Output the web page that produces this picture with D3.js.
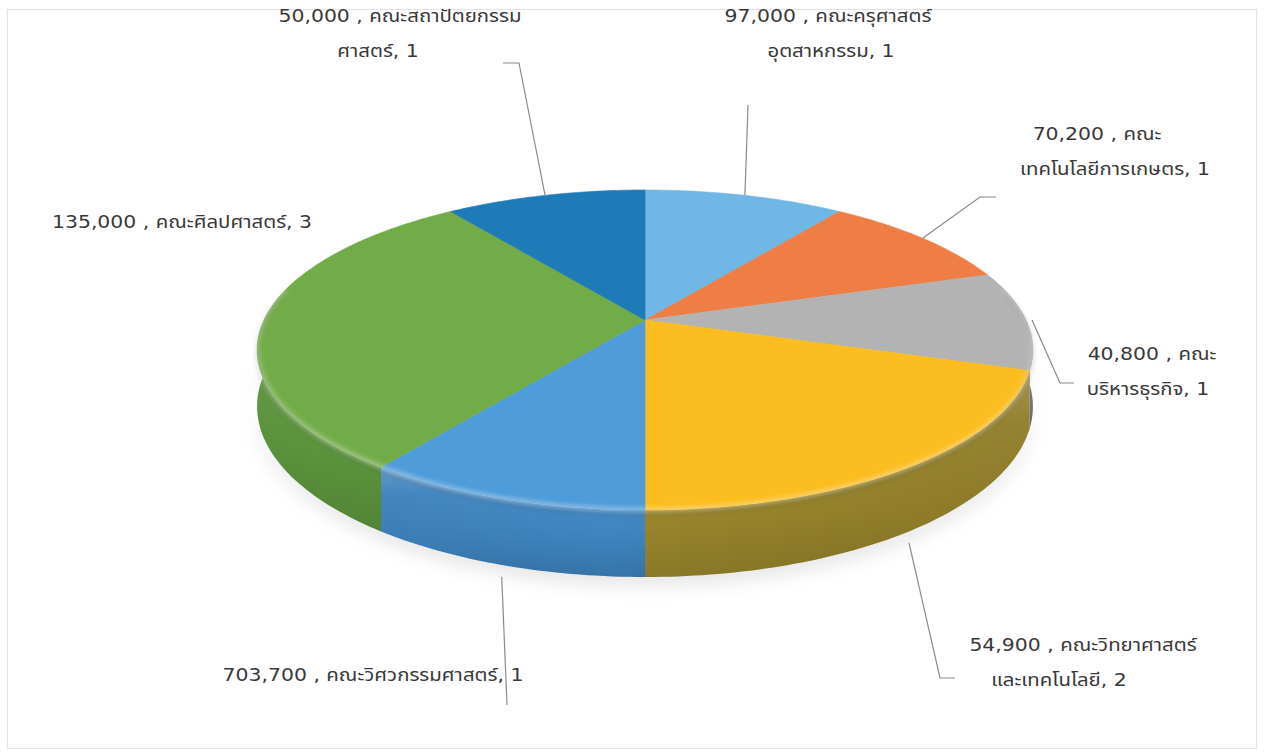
<!DOCTYPE html>
<html>
<head>
<meta charset="utf-8">
<script src="https://cdn.jsdelivr.net/npm/d3@7"></script>
<style>
  html, body { margin: 0; padding: 0; background: #fff; }
  svg { display: block; }
  .lbl { font-family: Tahoma, "DejaVu Sans", "Noto Sans Thai", sans-serif; font-size: 17px; fill: #383838; }
</style>
</head>
<body>
<svg id="chart" width="1264" height="752"></svg>
<script>
// Faculties, budget amounts and number of projects (slice size = project count)
const faculties = [
  "คณะครุศาสตร์อุตสาหกรรม",
  "คณะเทคโนโลยีการเกษตร",
  "คณะบริหารธุรกิจ",
  "คณะวิทยาศาสตร์และเทคโนโลยี",
  "คณะวิศวกรรมศาสตร์",
  "คณะศิลปศาสตร์",
  "คณะสถาปัตยกรรมศาสตร์"
];
const budgets = [97000, 70200, 40800, 54900, 703700, 135000, 50000];
const projects = [1, 1, 1, 2, 1, 3, 1];

// Label text lines for each slice
const labelLines = [
  ["97,000 , คณะครุศาสตร์", "อุตสาหกรรม, 1"],
  ["70,200 , คณะ", "เทคโนโลยีการเกษตร, 1"],
  ["40,800 , คณะ", "บริหารธุรกิจ, 1"],
  ["54,900 , คณะวิทยาศาสตร์", "และเทคโนโลยี, 2"],
  ["703,700 , คณะวิศวกรรมศาสตร์, 1"],
  ["135,000 , คณะศิลปศาสตร์, 3"],
  ["50,000 , คณะสถาปัตยกรรม", "ศาสตร์, 1"]
];

// Slice colours (top face) and side-wall colours
const topColors  = ["#70b7e6", "#ee7e46", "#b3b3b3", "#fbbd1f", "#4e9cda", "#72ac48", "#1f7ab8"];
const sideColors = ["#5a9ccc", "#c8632f", "#8f8f8f", "#a48f2f", "#3f88c6", "#66a443", "#196698"];

// Label placement: centre x of each line, first baseline, leader elbow and end (null = no leader)
const labelLayout = [
  { xs: [828, 831], y: 22, leader: [[748, 105], [748, 105]] },
  { xs: [1097, 1115], y: 140, leader: [[980, 197], [996, 197]] },
  { xs: [1152, 1148], y: 360, leader: [[1060, 383], [1074, 383]] },
  { xs: [1083, 1059], y: 651, leader: [[940, 678], [955, 678]] },
  { xs: [373], y: 681, leader: [[507, 705], [507, 705]] },
  { xs: [182], y: 228, leader: null },
  { xs: [400, 378], y: 22, leader: [[519, 63], [503, 63]] }
];
const textStretch = 1.2;

const svg = d3.select("#chart");
const defs = svg.append("defs");

// Light frame
svg.append("rect").attr("x", 7.5).attr("y", 9.5).attr("width", 1249).attr("height", 739)
  .attr("fill", "none").attr("stroke", "#e4e4e4").attr("stroke-width", 1.2);

// Perspective projection of the disc: theta clockwise from the top, depth 0 = top face, 1 = base
const cx = 645, cy = 320, a = 381, b = 154.4, k = 0.1875, thick = 54.4;
function proj(theta, depth, r = 1) {
  const u = r * Math.sin(theta), v = -r * Math.cos(theta);
  const w = 1 - k * v;
  return [cx + a * u / w, cy + b * v / w + depth * thick / w];
}
function arcPts(a0, a1, depth) {
  const pts = [];
  const steps = Math.max(2, Math.ceil(Math.abs(a1 - a0) / (Math.PI / 180)));
  for (let i = 0; i <= steps; i++) pts.push(proj(a0 + (a1 - a0) * i / steps, depth));
  return pts;
}

const pie = d3.pie().value(d => d).sort(null).startAngle(0).endAngle(2 * Math.PI);
const arcs = pie(projects);
const line = d3.line();

// Soft shadow under the disc
const blur = defs.append("filter").attr("id", "shadowBlur").attr("x", "-20%").attr("y", "-50%").attr("width", "140%").attr("height", "200%");
blur.append("feGaussianBlur").attr("stdDeviation", 9);
svg.append("path")
  .attr("d", line(arcPts(Math.PI / 2, 3 * Math.PI / 2, 1.12).concat(arcPts(3 * Math.PI / 2, Math.PI / 2, 0.85))) + "Z")
  .attr("fill", "#b9b9b9").attr("opacity", 0.4).attr("filter", "url(#shadowBlur)");

// Side-wall shading gradient (highlight near the rim, darker towards the base)
const sideShade = defs.append("linearGradient").attr("id", "sideShade")
  .attr("x1", 0).attr("y1", 0).attr("x2", 0).attr("y2", 1);
sideShade.append("stop").attr("offset", "0%").attr("stop-color", "#fff").attr("stop-opacity", 0.22);
sideShade.append("stop").attr("offset", "25%").attr("stop-color", "#fff").attr("stop-opacity", 0.04);
sideShade.append("stop").attr("offset", "70%").attr("stop-color", "#000").attr("stop-opacity", 0.05);
sideShade.append("stop").attr("offset", "100%").attr("stop-color", "#000").attr("stop-opacity", 0.15);

// Horizontal shading across the curved wall
const sideCurve = defs.append("linearGradient").attr("id", "sideCurve")
  .attr("gradientUnits", "userSpaceOnUse").attr("x1", cx - 390).attr("y1", 0).attr("x2", cx + 390).attr("y2", 0);
sideCurve.append("stop").attr("offset", "0%").attr("stop-color", "#000").attr("stop-opacity", 0.08);
sideCurve.append("stop").attr("offset", "45%").attr("stop-color", "#000").attr("stop-opacity", 0);
sideCurve.append("stop").attr("offset", "100%").attr("stop-color", "#000").attr("stop-opacity", 0.12);

const sides = svg.append("g");
arcs.forEach((d, i) => {
  // only the front half of the wall can be seen
  const s0 = Math.max(d.startAngle, Math.PI / 2 - 0.3), s1 = Math.min(d.endAngle, 3 * Math.PI / 2 + 0.3);
  if (s1 <= s0) return;
  const dPath = line(arcPts(s0, s1, 0).concat(arcPts(s1, s0, 1))) + "Z";
  sides.append("path").attr("d", dPath).attr("fill", sideColors[i]);
  sides.append("path").attr("d", dPath).attr("fill", "url(#sideShade)");
  sides.append("path").attr("d", dPath).attr("fill", "url(#sideCurve)");
});

// Top faces
const tops = svg.append("g");
arcs.forEach((d, i) => {
  const pts = [proj(0, 0, 0)].concat(arcPts(d.startAngle, d.endAngle, 0));
  tops.append("path").attr("d", line(pts) + "Z").attr("fill", topColors[i])
    .attr("stroke", topColors[i]).attr("stroke-width", 0.6);
});

// Bevel highlight along the rim of the top face
const rimBlur = defs.append("filter").attr("id", "rimBlur").attr("x", "-10%").attr("y", "-10%").attr("width", "120%").attr("height", "120%");
rimBlur.append("feGaussianBlur").attr("stdDeviation", 2.2);
svg.append("path")
  .attr("d", line(arcPts(Math.PI / 2 - 0.2, 3 * Math.PI / 2 + 0.2, 0)))
  .attr("fill", "none").attr("stroke", "#fff").attr("stroke-opacity", 0.35)
  .attr("stroke-width", 5).attr("filter", "url(#rimBlur)");
svg.append("path")
  .attr("d", line(arcPts(Math.PI / 2 - 0.2, 3 * Math.PI / 2 + 0.2, 0.06)))
  .attr("fill", "none").attr("stroke", "#000").attr("stroke-opacity", 0.10)
  .attr("stroke-width", 4).attr("filter", "url(#rimBlur)");

// Leader lines: start on the rim (or the base edge for slices facing the viewer)
const leaders = svg.append("g").attr("fill", "none").attr("stroke", "#8a8a8a").attr("stroke-width", 1.2);
arcs.forEach((d, i) => {
  const L = labelLayout[i].leader;
  if (!L) return;
  const mid = (d.startAngle + d.endAngle) / 2;
  const v = -Math.cos(mid);
  const front = v > 0.5;
  const start = front ? proj(mid, 1.18) : proj(mid, 0);
  if (!front && v > -0.2) start[0] += 6;
  leaders.append("path").attr("d", line([start, L[0], L[1]]));
});

// Labels (slightly widened glyphs)
const labels = svg.append("g");
labelLines.forEach((lines, i) => {
  const pos = labelLayout[i];
  lines.forEach((s, j) => {
    const x = pos.xs[j];
    labels.append("text").attr("class", "lbl").attr("text-anchor", "middle")
      .attr("transform", `translate(${x},${pos.y + j * 35}) scale(${textStretch},1)`)
      .text(s);
  });
});
</script>
</body>
</html>
